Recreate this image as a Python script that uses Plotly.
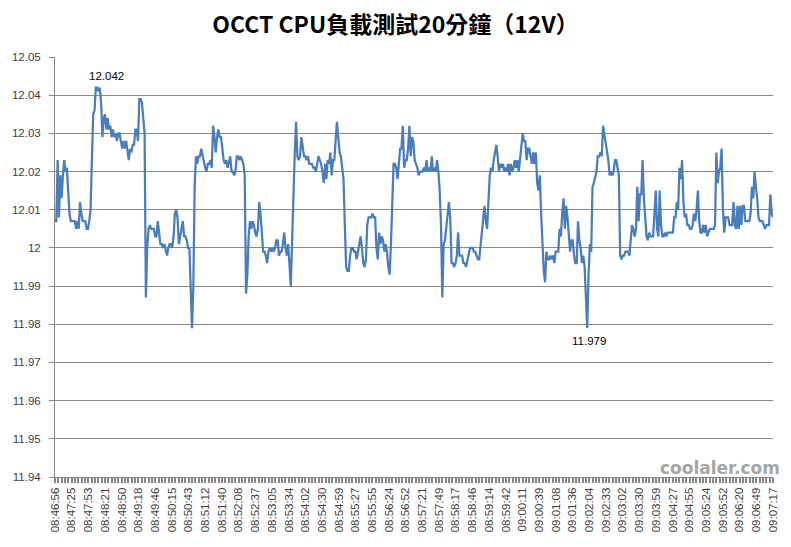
import numpy as np
import plotly.graph_objects as go

title_text = "OCCT CPU負載測試20分鐘（12V）"

time_labels = [
    "08:46:56", "08:47:25", "08:47:53", "08:48:21", "08:48:50", "08:49:18", "08:49:46",
    "08:50:15", "08:50:43", "08:51:12", "08:51:40", "08:52:08", "08:52:37", "08:53:05",
    "08:53:34", "08:54:02", "08:54:30", "08:54:59", "08:55:27", "08:55:55", "08:56:24",
    "08:56:52", "08:57:21", "08:57:49", "08:58:17", "08:58:46", "08:59:14", "08:59:42",
    "09:00:11", "09:00:39", "09:01:08", "09:01:36", "09:02:04", "09:02:33", "09:03:02",
    "09:03:30", "09:03:59", "09:04:27", "09:04:55", "09:05:24", "09:05:52", "09:06:20",
    "09:06:49", "09:07:17",
]

y_tick_values = [11.94, 11.95, 11.96, 11.97, 11.98, 11.99, 12.00, 12.01, 12.02, 12.03, 12.04, 12.05]
y_tick_labels = ["11.94", "11.95", "11.96", "11.97", "11.98", "11.99", "12", "12.01", "12.02", "12.03", "12.04", "12.05"]

volt_part1 = [
    12.007, 12.007, 12.023, 12.008, 12.019, 12.013, 12.019, 12.023, 12.020, 12.021, 12.015, 12.009,
    12.007, 12.007, 12.007, 12.007, 12.005, 12.007, 12.005, 12.012, 12.009, 12.007, 12.007, 12.007,
    12.005, 12.005, 12.007, 12.010, 12.023, 12.035, 12.036, 12.042, 12.042, 12.041, 12.042, 12.038,
    12.029, 12.034, 12.035, 12.031, 12.034, 12.031, 12.032, 12.029, 12.031, 12.029, 12.030, 12.028,
    12.030, 12.030, 12.028, 12.026, 12.028, 12.026, 12.028, 12.026, 12.023, 12.026, 12.025, 12.027,
    12.027, 12.031, 12.031, 12.028, 12.039, 12.039, 12.038, 12.034, 12.030, 11.987, 12.000, 12.005,
    12.006, 12.005, 12.005, 12.005, 12.003, 12.003, 12.007, 12.004, 12.001, 12.001, 12.000, 12.001,
    11.999, 11.998, 12.000, 12.001, 12.001, 12.000, 12.003, 12.009, 12.010, 12.008, 12.001, 12.003,
    12.006, 12.007, 12.003, 12.003, 12.002, 12.000, 12.000, 11.989, 11.979, 11.990, 12.016, 12.024,
    12.022, 12.024, 12.024, 12.026, 12.024, 12.022, 12.021, 12.020, 12.022, 12.022, 12.023, 12.021,
    12.032, 12.029, 12.025, 12.029, 12.031, 12.029, 12.029, 12.026, 12.023, 12.022, 12.023, 12.021,
    12.023, 12.024, 12.020,
]

volt_part2 = [
    12.020, 12.019, 12.020, 12.024, 12.024, 12.023, 12.024, 12.023, 12.022, 12.019, 11.988,
    11.993, 12.003, 12.007, 12.005, 12.007, 12.006, 12.004, 12.003, 12.005, 12.012, 12.009, 12.004,
    11.999, 11.999, 11.998, 11.996, 11.999, 12.000, 11.999, 12.000, 11.999, 12.000, 12.002,
    12.002, 11.998, 11.999, 11.999, 12.001, 12.004, 12.000, 11.998, 12.001, 11.996, 11.990, 12.002,
    12.016, 12.025, 12.033, 12.024, 12.023, 12.024, 12.029, 12.027, 12.024, 12.024, 12.023, 12.024,
    12.022, 12.022, 12.022, 12.021, 12.021, 12.020, 12.022, 12.024, 12.023, 12.022, 12.020, 12.017,
    12.022, 12.018, 12.023, 12.022, 12.025, 12.019, 12.023, 12.023, 12.028, 12.033, 12.029, 12.025,
    12.024, 12.021, 12.018, 12.006, 11.995, 11.994, 11.994, 11.998, 12.000, 12.000, 11.999,
    11.999, 11.997, 11.999, 12.001, 12.003, 12.000, 11.996, 11.995, 11.997, 12.006, 12.008, 12.008,
    12.008, 12.009, 12.008, 12.008, 12.000, 11.997, 12.004, 12.001, 12.003, 12.002, 11.999,
    12.001, 11.999, 11.995, 11.993, 12.001, 12.010, 12.022, 12.022, 12.021, 12.018, 12.023, 12.026,
    12.026, 12.032, 12.021, 12.023, 12.023, 12.026, 12.032, 12.024, 12.029,
]

volt_part3 = [
    12.028, 12.023, 12.022, 12.021, 12.019, 12.020, 12.020, 12.020, 12.021, 12.020,
    12.023, 12.020, 12.021, 12.020, 12.024, 12.020, 12.021, 12.020, 12.023, 12.020, 12.015, 12.006,
    11.987, 12.001, 12.002, 12.005, 12.009, 12.012, 12.008, 11.996, 11.996, 11.995,
    11.996, 11.998, 12.004, 11.998, 11.998, 11.998, 11.996, 11.996, 11.995, 11.997, 11.999, 12.000,
    12.000, 12.000, 11.999, 11.999, 11.998, 11.997, 11.997, 12.001, 12.005, 12.009, 12.011, 12.007,
    12.005, 12.012, 12.019, 12.021, 12.020, 12.023, 12.025, 12.027, 12.024, 12.020,
    12.022, 12.021, 12.022, 12.020, 12.021, 12.020, 12.022, 12.019, 12.022, 12.020, 12.021, 12.023,
    12.021, 12.023, 12.020, 12.023, 12.026, 12.030, 12.028, 12.028, 12.023, 12.026, 12.026, 12.024,
    12.022, 12.025, 12.022, 12.025, 12.017, 12.015, 12.019, 12.009, 11.999, 11.994, 11.991, 11.999,
    11.997, 11.997, 11.998, 11.997, 11.998, 11.996, 11.999, 11.999, 11.999, 12.005, 12.003, 12.009,
    12.013, 12.005, 12.011, 12.008, 12.003, 11.999, 12.002, 12.002, 11.998, 11.996, 11.996, 12.007,
    12.002, 12.000, 11.996, 11.998, 11.995, 11.986, 11.979, 11.993, 12.001, 11.999, 12.016,
]

volt_part4 = [
    12.017, 12.019, 12.020, 12.024, 12.024, 12.025, 12.024, 12.032, 12.030, 12.028,
    12.026, 12.023, 12.019, 12.020, 12.019, 12.020, 12.023, 12.023, 12.021, 12.019,
    11.998, 11.997, 11.998, 11.998, 11.999, 11.999, 11.999, 11.998, 12.002, 12.006,
    12.005, 12.003, 12.005, 12.016, 12.007, 12.014, 12.014, 12.023, 12.013, 12.007, 12.003, 12.002,
    12.004, 12.003, 12.003, 12.003, 12.009, 12.015, 12.005, 12.003, 12.015, 12.006,
    12.003, 12.003, 12.004, 12.003, 12.004, 12.004, 12.004, 12.004, 12.004, 12.008, 12.008,
    12.012, 12.010, 12.021, 12.018, 12.023, 12.012, 12.008, 12.009, 12.006, 12.006, 12.005,
    12.005, 12.006, 12.009, 12.007, 12.010, 12.015, 12.007, 12.004, 12.004, 12.006,
    12.004, 12.006, 12.003, 12.004, 12.005, 12.005, 12.005, 12.005, 12.006, 12.025, 12.017, 12.020,
    12.021, 12.026, 12.010, 12.004, 12.008, 12.008, 12.008, 12.006, 12.006, 12.006, 12.012, 12.006,
    12.005, 12.011, 12.005, 12.011, 12.006, 12.011, 12.011, 12.007, 12.007, 12.007, 12.007, 12.009,
    12.016, 12.013, 12.020, 12.016, 12.013, 12.008, 12.007, 12.007, 12.007, 12.006, 12.005, 12.006,
    12.006, 12.006, 12.014, 12.009, 12.008,
]

voltage = np.array(volt_part1 + volt_part2 + volt_part3 + volt_part4)
n = len(voltage)
x = np.arange(n)

line_color = "#4A7EBB"
grid_color = "#878787"
text_color = "#404040"

fig = go.Figure()
fig.add_trace(go.Scatter(
    x=x, y=voltage, mode="lines",
    line=dict(color=line_color, width=2.25),
    hoverinfo="y", showlegend=False,
))

imax = int(np.where(voltage == voltage.max())[0][-1])
imin = int(np.where(voltage == voltage.min())[0][-1])

fig.add_annotation(x=imax, y=voltage[imax], text=f"{voltage[imax]:.3f}", showarrow=False,
                   yshift=12, xshift=7, font=dict(family="Liberation Sans", size=11.5, color="#000000"))
fig.add_annotation(x=imin, y=voltage[imin], text=f"{voltage[imin]:.3f}", showarrow=False,
                   yshift=-13, xshift=2, font=dict(family="Liberation Sans", size=11.5, color="#000000"))

fig.add_annotation(xref="paper", yref="paper", x=1.0124, y=0.0, xanchor="right", yanchor="bottom",
                   text="coolaler.com", showarrow=False, yshift=-3,
                   font=dict(family="DejaVu Sans", size=17, color="#a5a5a5", weight="bold"))

tickvals = np.linspace(0, n - 1, len(time_labels))

fig.update_layout(
    width=791, height=547,
    margin=dict(l=51, r=15, t=57, b=70),
    paper_bgcolor="white", plot_bgcolor="white",
    title=dict(text=f"<b>{title_text}</b>", x=0.5, xanchor="center", y=0.955, yanchor="middle",
               font=dict(family="Noto Sans CJK TC", size=23, color="#000000")),
    xaxis=dict(
        range=[0, n - 1], tickmode="array", tickvals=tickvals, ticktext=time_labels,
        tickangle=-90, ticks="outside", ticklen=5, tickwidth=2, tickcolor=grid_color,
        showgrid=False, showline=True, linecolor=grid_color, linewidth=1, zeroline=False,
        tickfont=dict(family="Liberation Sans", size=11.5, color=text_color),
        minor=dict(tick0=0, dtick=(n - 1) / ((len(time_labels) - 1) * 5), ticks="outside",
                   ticklen=5, tickwidth=2, tickcolor=grid_color, showgrid=False),
    ),
    yaxis=dict(
        range=[11.94, 12.05], tickmode="array", tickvals=y_tick_values, ticktext=y_tick_labels,
        ticks="outside", ticklen=5, tickcolor=grid_color, showgrid=True, gridcolor=grid_color,
        gridwidth=1, showline=True, linecolor=grid_color, linewidth=1, zeroline=False,
        ticklabelstandoff=6,
        tickfont=dict(family="Liberation Sans", size=11.5, color=text_color),
    ),
)

fig.write_html("out.html", config={"displayModeBar": False},
               post_script="document.body.style.margin='0';")
